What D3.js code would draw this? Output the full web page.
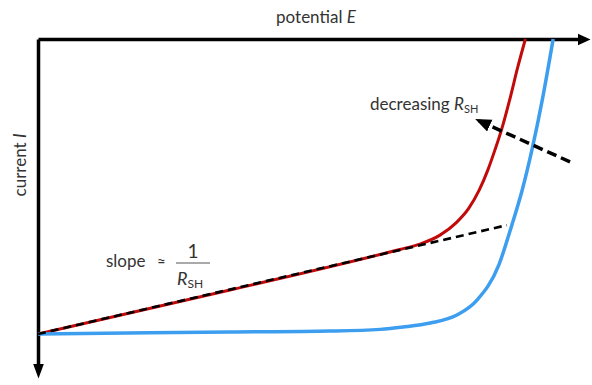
<!DOCTYPE html>
<html>
<head>
<meta charset="utf-8">
<script src="https://cdn.jsdelivr.net/npm/d3@7"></script>
<style>
  body { margin: 0; background: #fff; }
  svg { display: block; }
  text { font-family: Lato, "Open Sans", sans-serif; fill: #333; }
</style>
</head>
<body>
<svg id="chart" width="592" height="385"></svg>
<script>
// values (potential E, current I; I grows downward)
var redE = [0, 3.53, 6.65, 7.02, 7.39, 7.68, 7.92, 8.11, 8.27, 8.40, 8.52, 8.67, 8.82, 8.96];
var redI = [8.86, 7.54, 6.32, 6.16, 5.89, 5.53, 5.08, 4.54, 3.93, 3.33, 2.73, 1.83, 0.84, 0];
var blueE = [0, 3.53, 5.37, 6.29, 6.71, 7.21, 7.70, 8.07, 8.47, 8.71, 8.90, 9.08, 9.27, 9.47];
var blueI = [8.86, 8.80, 8.77, 8.72, 8.65, 8.53, 8.29, 7.84, 6.79, 5.59, 4.54, 3.33, 1.83, 0];
var tangentE = [0, 8.62];
var tangentI = [8.86, 5.59];
var arrowE = [9.78, 8.07];
var arrowI = [3.69, 2.43];

var svg = d3.select('#chart');

var x = d3.scaleLinear().domain([0, 10]).range([38, 582]);
var y = d3.scaleLinear().domain([0, 10]).range([39, 372]);

function pts(es, is) {
    return es.map(function (e, i) { return [e, is[i]]; });
}

var defs = svg.append('defs');
function marker(id, len, half, ref) {
    defs.append('marker')
        .attr('id', id)
        .attr('markerUnits', 'userSpaceOnUse')
        .attr('markerWidth', len + 2)
        .attr('markerHeight', half * 2 + 2)
        .attr('viewBox', '0 ' + (-half - 1) + ' ' + (len + 2) + ' ' + (half * 2 + 2))
        .attr('refX', ref)
        .attr('refY', 0)
        .attr('orient', 'auto')
        .append('path')
        .attr('d', 'M0,' + (-half) + 'L' + len + ',0L0,' + half + 'Z')
        .attr('fill', '#000');
}
marker('headX', 13, 6, 5);
marker('headY', 15, 5.5, 9);
marker('headA', 16, 6.5, 14);

// axes: only the domain lines, no ticks
var gx = svg.append('g').attr('transform', 'translate(0,' + y(0) + ')')
    .call(d3.axisTop(x).tickValues([]).tickSizeOuter(0));
var gy = svg.append('g').attr('transform', 'translate(' + x(0) + ',0)')
    .call(d3.axisLeft(y).tickValues([]).tickSizeOuter(0));
gx.select('.domain').attr('stroke', '#000').attr('stroke-width', 3.5).attr('marker-end', 'url(#headX)');
gy.select('.domain').attr('stroke', '#000').attr('stroke-width', 3.5).attr('marker-end', 'url(#headY)');

var line = d3.line()
    .x(function (d) { return x(d[0]); })
    .y(function (d) { return y(d[1]); })
    .curve(d3.curveMonotoneX);

svg.append('path')
    .attr('d', line(pts(redE, redI)))
    .attr('fill', 'none')
    .attr('stroke', '#c20a0a')
    .attr('stroke-width', 3);

svg.append('path')
    .attr('d', line(pts(blueE, blueI)))
    .attr('fill', 'none')
    .attr('stroke', '#3d9ef0')
    .attr('stroke-width', 3.5);

svg.append('path')
    .attr('d', line(pts(tangentE, tangentI)))
    .attr('fill', 'none')
    .attr('stroke', '#000')
    .attr('stroke-width', 2.6)
    .attr('stroke-dasharray', '8,5');

svg.append('path')
    .attr('d', line(pts(arrowE, arrowI)))
    .attr('fill', 'none')
    .attr('stroke', '#000')
    .attr('stroke-width', 3.5)
    .attr('stroke-dasharray', '10,5')
    .attr('marker-end', 'url(#headA)');

// labels
svg.append('text')
    .attr('x', 316).attr('y', 23)
    .attr('text-anchor', 'middle')
    .style('font-size', '17px')
    .html('potential <tspan font-style="italic">E</tspan>');

svg.append('text')
    .attr('transform', 'translate(26,165) rotate(-90)')
    .attr('text-anchor', 'middle')
    .style('font-size', '17px')
    .html('current <tspan font-style="italic">I</tspan>');

var dec = svg.append('text')
    .attr('x', 370).attr('y', 110)
    .style('font-size', '17px');
dec.append('tspan').text('decreasing ');
dec.append('tspan').attr('font-style', 'italic').text('R');
dec.append('tspan').attr('dy', 3).style('font-size', '11px').text('SH');

svg.append('text')
    .attr('x', 106).attr('y', 267)
    .style('font-size', '17px')
    .text('slope');
svg.append('text')
    .attr('x', 157).attr('y', 267)
    .style('font-size', '15px')
    .text('≈');
svg.append('text')
    .attr('x', 193).attr('y', 258)
    .attr('text-anchor', 'middle')
    .style('font-size', '19px')
    .text('1');
svg.append('line')
    .attr('x1', 176).attr('x2', 210)
    .attr('y1', 263).attr('y2', 263)
    .attr('stroke', '#555').attr('stroke-width', 1);
var rs = svg.append('text')
    .attr('x', 177).attr('y', 285)
    .style('font-size', '18px');
rs.append('tspan').attr('font-style', 'italic').text('R');
rs.append('tspan').attr('dy', 3).style('font-size', '12px').text('SH');
</script>
</body>
</html>
